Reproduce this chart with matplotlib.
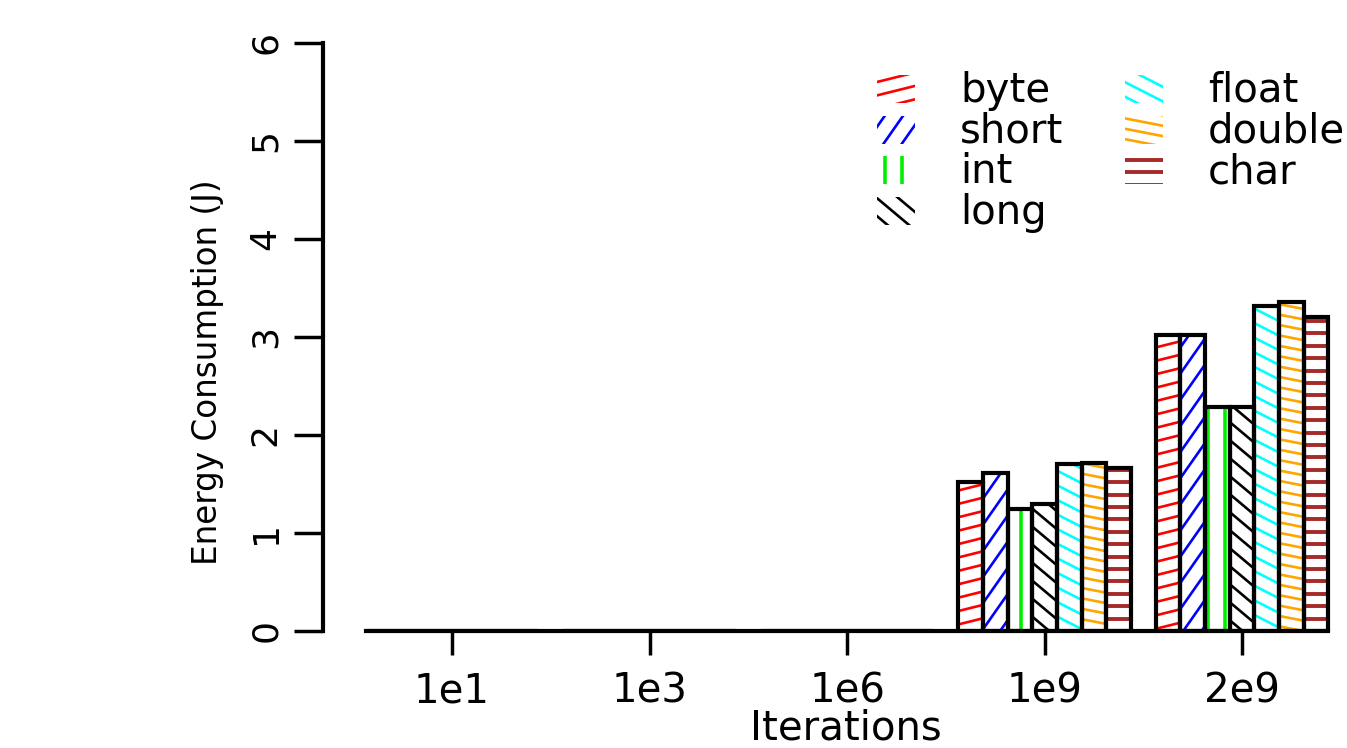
import numpy as np
import matplotlib.pyplot as plt
from matplotlib.patches import Rectangle
from matplotlib.lines import Line2D

plt.rcParams['font.family'] = ['DejaVu Sans']

# 数据：各迭代次数下不同数据类型的能耗 (J)
iterations = ['1e1', '1e3', '1e6', '1e9', '2e9']
types = ['byte', 'short', 'int', 'long', 'float', 'double', 'char']
byte_j = [0, 0, 0, 1.52, 3.02]
short_j = [0, 0, 0, 1.61, 3.02]
int_j = [0, 0, 0, 1.24, 2.29]
long_j = [0, 0, 0, 1.30, 2.29]
float_j = [0, 0, 0, 1.70, 3.32]
double_j = [0, 0, 0, 1.71, 3.36]
char_j = [0, 0, 0, 1.66, 3.20]
series = [byte_j, short_j, int_j, long_j, float_j, double_j, char_j]

# 阴影样式：颜色, 角度(度), 线间距(px), 线宽
styles = {
    'byte': ('#FF0000', 14, 13.0, 1.9),
    'short': ('#0000FF', 55, 15.0, 1.9),
    'int': ('#00EE00', 90, 17.0, 2.6),
    'long': ('#000000', -40, 13.8, 1.9),
    'float': ('#00FFFF', -27, 13.0, 1.9),
    'double': ('#FFA500', -11, 10.2, 1.9),
    'char': ('#A52A2A', 0, 12.4, 2.8),
}

W, H = 1347, 748
fig = plt.figure(figsize=(W / 100, H / 100), dpi=100)
ax = fig.add_axes([323 / W, 117 / H, 1024 / W, 588 / H])

n_types = len(types)
group_w = n_types + 1
starts = [1 + g * group_w for g in range(len(iterations))]

bars = {}
for j, name in enumerate(types):
    xs = [s + j for s in starts]
    bars[name] = ax.bar(xs, series[j], width=1, align='edge', fill=False,
                        edgecolor='black', linewidth=3, zorder=3)

ax.set_xlim(-0.725, 40.75)
ax.set_ylim(0, 6)

origin = ax.transData.transform((0, 0))
inv = ax.transData.inverted()


def hatch(patch, color, angle, gap, lw):
    bb = patch.get_window_extent()
    if bb.height < 1 or bb.width < 1:
        return
    th = np.radians(angle)
    u = np.array([np.cos(th), np.sin(th)])
    nv = np.array([-np.sin(th), np.cos(th)])
    corners = np.array([[bb.x0, bb.y0], [bb.x1, bb.y0], [bb.x0, bb.y1], [bb.x1, bb.y1]])
    proj = (corners - origin) @ nv
    c = corners.mean(axis=0)
    L = np.hypot(bb.width, bb.height)
    for k in range(int(np.floor(proj.min() / gap)), int(np.ceil(proj.max() / gap)) + 1):
        p0 = origin + k * gap * nv
        tc = (c - p0) @ u
        pts = inv.transform([p0 + (tc - L) * u, p0 + (tc + L) * u])
        ln = Line2D(pts[:, 0], pts[:, 1], color=color, lw=lw, zorder=2,
                    solid_capstyle='butt')
        ax.add_line(ln)
        ln.set_clip_path(patch)


for name in types:
    color, angle, gap, lw = styles[name]
    for p in bars[name]:
        hatch(p, color, angle, gap, lw)

# 图例（手动绘制，模仿R的density图例）
def px2data(px, py):
    return inv.transform((px, H - py))

key_x = [877, 1125]
text_x = [960, 1208]
row_h = 40.7
for i, name in enumerate(types):
    col, row = i // 4, i % 4
    yc = 89 + row_h * row
    x0, y0 = px2data(key_x[col], yc + 14)
    x1, y1 = px2data(key_x[col] + 38, yc - 14)
    key = Rectangle((x0, y0), x1 - x0, y1 - y0, fill=False, edgecolor='none')
    ax.add_patch(key)
    color, angle, gap, lw = styles[name]
    hatch(key, color, angle, gap, lw)
    tx, ty = px2data(text_x[col], yc + 2)
    ax.text(tx, ty, name, fontsize=29, va='center', ha='left', clip_on=False)

# 坐标轴
for s in ['top', 'right']:
    ax.spines[s].set_visible(False)
ax.spines['left'].set_bounds(0, 6)
ax.spines['bottom'].set_bounds(1, 40)
ax.spines['left'].set_linewidth(3)
ax.spines['bottom'].set_linewidth(3)

ax.set_xticks([s + n_types / 2 for s in starts])
ax.set_xticklabels(iterations, fontsize=29)
ax.set_yticks(range(0, 7))
ax.set_yticklabels([str(v) for v in range(0, 7)], fontsize=26)
ax.tick_params(axis='x', length=17, width=2.5, pad=12)
ax.tick_params(axis='y', length=21, width=2.5, pad=8, labelrotation=90)
for lab in ax.get_yticklabels():
    lab.set_va('center')

ax.set_xlabel('Iterations', fontsize=29)
ax.xaxis.set_label_coords(0.511, -0.132)
ax.set_ylabel('Energy Consumption (J)', fontsize=23.5)
ax.yaxis.set_label_coords(-0.0967, 0.4405)

fig.savefig('out.png', dpi=100)
